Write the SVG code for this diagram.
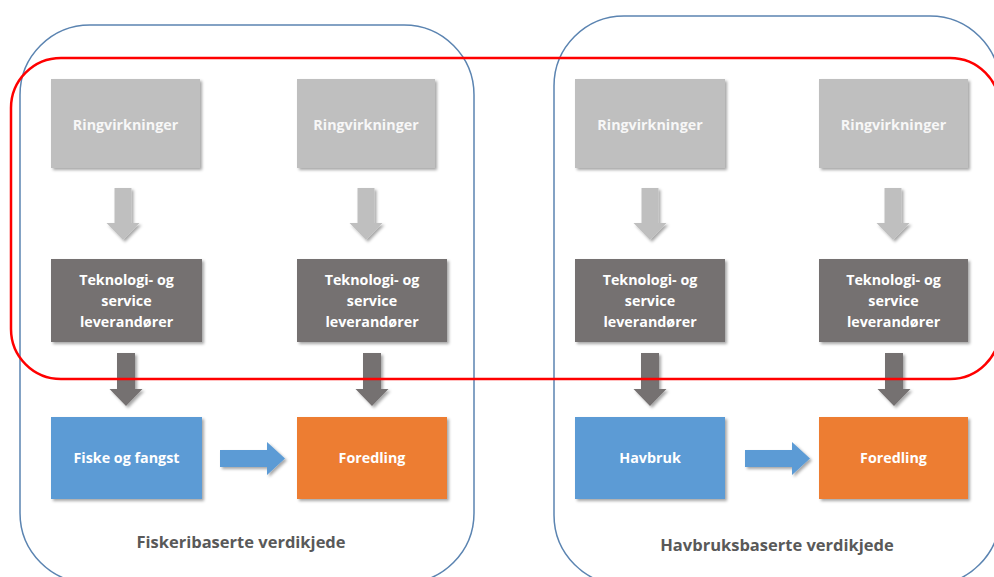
<svg xmlns="http://www.w3.org/2000/svg" width="994" height="577" viewBox="0 0 994 577">
<defs>
<filter id="sh" x="-10%" y="-10%" width="130%" height="130%">
<feDropShadow dx="2" dy="2" stdDeviation="1.5" flood-color="#000" flood-opacity="0.35"/>
</filter>
<style>
.cont{fill:none;stroke:#5b84b1;stroke-width:1.5}
.red{fill:none;stroke:#ff0000;stroke-width:2.5}
.lg{fill:#bfbfbf;filter:url(#sh)}
.dg{fill:#757171;filter:url(#sh)}
.bl{fill:#5b9bd5;filter:url(#sh)}
.or{fill:#ed7d31;filter:url(#sh)}
.t{font-family:"Open Sans","Liberation Sans",sans-serif;font-weight:700;font-size:14.3px;text-anchor:middle}
.tl{fill:#f7f7f7}
.tw{fill:#ffffff}
.lab{font-family:"Open Sans","Liberation Sans",sans-serif;font-weight:700;font-size:16.5px;fill:#595959;text-anchor:middle}
</style>
</defs>
<rect width="994" height="577" fill="#ffffff"/>
<g id="container-fiskeri">
<rect class="cont" x="20" y="25" width="454" height="558" rx="70"/>
<text class="lab" x="241" y="548">Fiskeribaserte verdikjede</text>
</g>
<g id="container-havbruk">
<rect class="cont" x="554" y="16" width="446" height="569" rx="70"/>
<text class="lab" x="777" y="551">Havbruksbaserte verdikjede</text>
</g>
<g id="ring1"><rect class="lg" x="51" y="79" width="149" height="89"/><text class="t tl" x="125.5" y="130">Ringvirkninger</text></g>
<g id="ring2"><rect class="lg" x="297" y="79" width="138" height="89"/><text class="t tl" x="366" y="130">Ringvirkninger</text></g>
<g id="ring3"><rect class="lg" x="575" y="79" width="150" height="89"/><text class="t tl" x="650" y="130">Ringvirkninger</text></g>
<g id="ring4"><rect class="lg" x="819" y="79" width="149" height="89"/><text class="t tl" x="893.5" y="130">Ringvirkninger</text></g>
<g id="tek1"><rect class="dg" x="51" y="259" width="151" height="83"/><text class="t tw" x="126.5" y="285">Teknologi- og<tspan x="126.5" y="306">service</tspan><tspan x="126.5" y="327">leverandører</tspan></text></g>
<g id="tek2"><rect class="dg" x="297" y="259" width="150" height="83"/><text class="t tw" x="372" y="285">Teknologi- og<tspan x="372" y="306">service</tspan><tspan x="372" y="327">leverandører</tspan></text></g>
<g id="tek3"><rect class="dg" x="575" y="259" width="150" height="83"/><text class="t tw" x="650" y="285">Teknologi- og<tspan x="650" y="306">service</tspan><tspan x="650" y="327">leverandører</tspan></text></g>
<g id="tek4"><rect class="dg" x="819" y="259" width="149" height="83"/><text class="t tw" x="893.5" y="285">Teknologi- og<tspan x="893.5" y="306">service</tspan><tspan x="893.5" y="327">leverandører</tspan></text></g>
<g id="fiske"><rect class="bl" x="51" y="417" width="151" height="82"/><text class="t tw" x="126.5" y="463">Fiske og fangst</text></g>
<g id="foredling1"><rect class="or" x="297" y="417" width="150" height="82"/><text class="t tw" x="372" y="463">Foredling</text></g>
<g id="havbruk"><rect class="bl" x="575" y="417" width="150" height="82"/><text class="t tw" x="650" y="463">Havbruk</text></g>
<g id="foredling2"><rect class="or" x="819" y="417" width="149" height="82"/><text class="t tw" x="893.5" y="463">Foredling</text></g>
<g id="connectors">
<polygon class="lg" points="114.5,188 131.5,188 131.5,223 139.5,223 123,240 106.5,223 114.5,223"/>
<polygon class="lg" points="357.5,188 374.5,188 374.5,223 382.5,223 366,240 349.5,223 357.5,223"/>
<polygon class="lg" points="641.5,188 658.5,188 658.5,223 666.5,223 650,240 633.5,223 641.5,223"/>
<polygon class="lg" points="884.5,188 901.5,188 901.5,223 909.5,223 893,240 876.5,223 884.5,223"/>
<polygon class="dg" points="117,353 135,353 135,389 142.5,389 126,406 109.5,389 117,389"/>
<polygon class="dg" points="363,353 381,353 381,389 388.5,389 372,406 355.5,389 363,389"/>
<polygon class="dg" points="641,353 659,353 659,389 666.5,389 650,406 633.5,389 641,389"/>
<polygon class="dg" points="885,353 903,353 903,389 910.5,389 894,406 877.5,389 885,389"/>
<polygon class="bl" points="220,450 267,450 267,442 285,458.5 267,475 267,467 220,467"/>
<polygon class="bl" points="745,450 792,450 792,442 810,458.5 792,475 792,467 745,467"/>
</g>
<g id="highlight">
<rect class="red" x="11" y="58" width="989" height="321" rx="50"/>
</g>
</svg>
